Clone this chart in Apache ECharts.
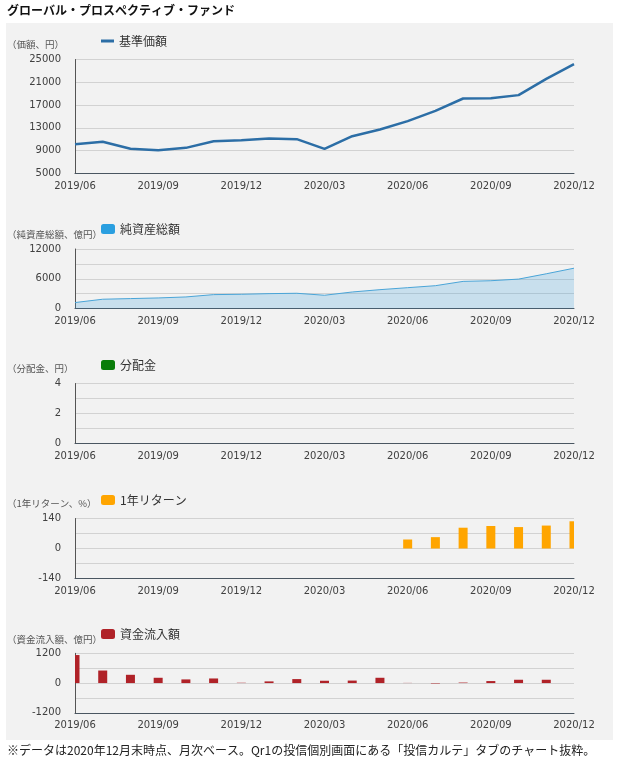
<!DOCTYPE html>
<html>
<head>
<meta charset="utf-8">
<script src="https://cdn.jsdelivr.net/npm/echarts@6/dist/echarts.min.js"></script>
<style>
html,body{margin:0;padding:0;background:#fff;}
#chart{width:619px;height:772px;}
</style>
</head>
<body>
<div id="chart"></div>
<script>
const months = ['2019/06','2019/07','2019/08','2019/09','2019/10','2019/11','2019/12',
  '2020/01','2020/02','2020/03','2020/04','2020/05','2020/06','2020/07','2020/08',
  '2020/09','2020/10','2020/11','2020/12'];
const navPrice = [10150,10560,9330,9090,9500,10670,10850,11140,11020,9330,11550,12720,14180,15990,18160,18220,18750,21600,24200];
const netAssets = [1200,1870,2000,2130,2330,2800,2870,3000,3070,2670,3330,3800,4200,4600,5470,5600,5930,7000,8130];
const distribution = [0,0,0,0,0,0,0,0,0,0,0,0,0,0,0,0,0,0,0];
const oneYearReturn = [null,null,null,null,null,null,null,null,null,null,null,null,42,53,97,105,100,107,127];
const fundFlows = [1130,505,333,213,147,185,12,67,160,93,100,213,6,-18,20,80,133,133,null];

const titleText = 'グローバル・プロスペクティブ・ファンド';
const noteText = '※データは2020年12月末時点、月次ベース。Qr1の投信個別画面にある「投信カルテ」タブのチャート抜粋。';
const panels = [
  {name:'基準価額', unit:'（価額、円）', min:5000, max:25000, interval:4000, labels:null},
  {name:'純資産総額', unit:'（純資産総額、億円）', min:0, max:12000, interval:3000, labels:[0,6000,12000]},
  {name:'分配金', unit:'（分配金、円）', min:0, max:4, interval:1, labels:[0,2,4]},
  {name:'1年リターン', unit:'（1年リターン、%）', min:-140, max:140, interval:70, labels:[-140,0,140]},
  {name:'資金流入額', unit:'（資金流入額、億円）', min:-1200, max:1200, interval:600, labels:[-1200,0,1200]}
];

const gridTops = [59.5, 249, 383.5, 518.5, 653.3];
const gridHeights = [114, 59.5, 60, 60, 59.5];
const legendTops = [30, 218, 354, 489, 623];
const unitTops = [40, 230, 364, 499, 635];
const FONT = 'DejaVu Sans, Verdana, sans-serif';
const CJK = '"Noto Sans CJK JP", sans-serif';
const BAR_W = 9;

const chart = echarts.init(document.getElementById('chart'), null, {renderer:'canvas'});

const grids = [], xAxes = [], yAxes = [], legends = [];
panels.forEach((p, i) => {
  grids.push({left:75, right:45, top:gridTops[i], height:gridHeights[i], outerBoundsMode:'none'});
  xAxes.push({
    type:'category', gridIndex:i, data:months, boundaryGap:false,
    axisLine:{show:true, onZero:false, lineStyle:{color:'#4a5661', width:1}},
    axisTick:{show:false},
    axisLabel:{interval:2, color:'#404040', fontFamily:FONT, fontSize:10, margin:8},
    splitLine:{show:false}
  });
  yAxes.push({
    type:'value', gridIndex:i, min:p.min, max:p.max, interval:p.interval,
    axisLine:{show:true, lineStyle:{color:'#555', width:1}},
    axisTick:{show:false},
    axisLabel:{color:'#404040', fontFamily:FONT, fontSize:10, margin:14,
      formatter: v => (p.labels && p.labels.indexOf(v) < 0) ? '' : String(v)},
    splitLine:{show:true, lineStyle:{color:'#d2d2d2', width:1}}
  });
});

const legendIcons = ['rect','roundRect','roundRect','roundRect','roundRect'];
panels.forEach((p, i) => {
  legends.push({
    left:96, top:legendTops[i], data:[p.name], icon:legendIcons[i],
    itemWidth: i === 0 ? 13 : 14, itemHeight: i === 0 ? 3 : 10, itemGap:5,
    textStyle:{color:'#333', fontFamily:CJK, fontSize:12},
    selectedMode:false
  });
});

const graphics = [
  {type:'rect', shape:{x:6, y:23, width:607, height:717}, style:{fill:'#f2f2f2'}, z:-100, silent:true},
  {type:'text', left:7, top:4, style:{text:titleText, fill:'#111', font:'bold 12px "Noto Sans CJK JP", sans-serif'}},
  {type:'text', left:7, top:744, style:{text:noteText, fill:'#222', font:'12px "Noto Sans CJK JP", sans-serif'}}
];
panels.forEach((p, i) => {
  graphics.push({type:'text', left:7, top:unitTops[i],
    style:{text:p.unit, fill:'#555', font:'9.5px "Noto Sans CJK JP", sans-serif'}});
});

// Bars drawn through the axis scales, clipped to the plot area
function clippedBar(color) {
  return function (params, api) {
    const v = api.value(1);
    if (v == null || isNaN(v)) return null;
    const top = api.coord([api.value(0), v]);
    const base = api.coord([api.value(0), 0]);
    const cs = params.coordSys;
    const rect = echarts.graphic.clipRectByRect(
      {x: top[0] - BAR_W / 2, y: Math.min(top[1], base[1]), width: BAR_W, height: Math.abs(base[1] - top[1])},
      {x: cs.x, y: cs.y, width: cs.width, height: cs.height}
    );
    if (!rect) return null;
    return {type:'rect', shape:rect, style:{fill:color}};
  };
}
function pairs(arr) { return arr.map((v, i) => [i, v]); }

const option = {
  animation:false,
  backgroundColor:'#ffffff',
  grid:grids, xAxis:xAxes, yAxis:yAxes, legend:legends, graphic:graphics,
  series:[
    {name:'基準価額', type:'line', xAxisIndex:0, yAxisIndex:0, data:navPrice,
     showSymbol:false, symbol:'none', color:'#2c6ea6', lineStyle:{color:'#2c6ea6', width:2.5}},
    {name:'純資産総額', type:'line', xAxisIndex:1, yAxisIndex:1, data:netAssets,
     showSymbol:false, symbol:'none', color:'#2a9fe0',
     lineStyle:{color:'#4aa5d8', width:1}, areaStyle:{color:'rgba(60,160,220,0.33)'}},
    {name:'分配金', type:'custom', xAxisIndex:2, yAxisIndex:2, data:pairs(distribution),
     itemStyle:{color:'#0a7d0a'}, renderItem:clippedBar('#0a7d0a'), encode:{x:0, y:1}},
    {name:'1年リターン', type:'custom', xAxisIndex:3, yAxisIndex:3, data:pairs(oneYearReturn),
     itemStyle:{color:'#ffa500'}, renderItem:clippedBar('#ffa500'), encode:{x:0, y:1}},
    {name:'資金流入額', type:'custom', xAxisIndex:4, yAxisIndex:4, data:pairs(fundFlows),
     itemStyle:{color:'#b02228'}, renderItem:clippedBar('#b02228'), encode:{x:0, y:1}}
  ]
};
chart.setOption(option);
</script>
</body>
</html>
